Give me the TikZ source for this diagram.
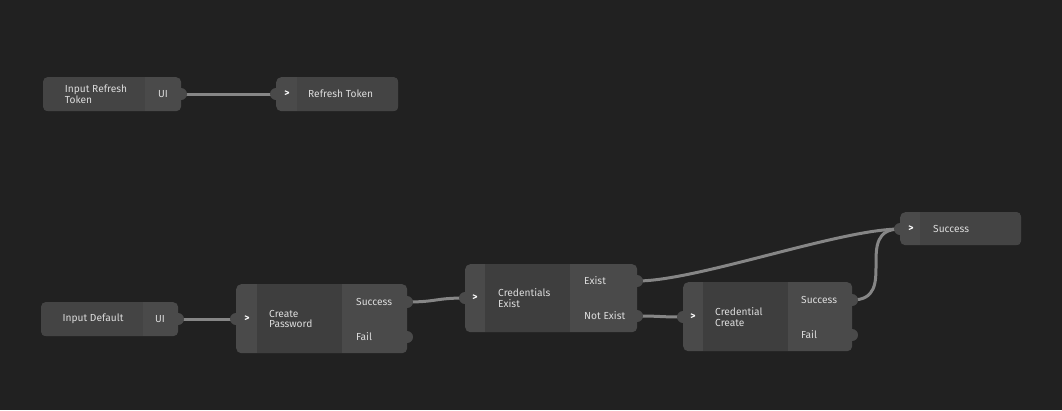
\documentclass[tikz,border=0pt]{standalone}
\usepackage{fontspec}
\setmainfont{Fira Sans}
\usetikzlibrary{positioning,calc}
\definecolor{bgdark}{RGB}{33,33,33}
\definecolor{nodepanel}{RGB}{74,74,74}
\definecolor{nodebody}{RGB}{62,62,62}
\definecolor{nodeinput}{RGB}{68,68,68}
\definecolor{wiregrey}{RGB}{134,134,134}
\definecolor{textgrey}{RGB}{220,220,220}
\pgfdeclarelayer{backdrop}
\pgfdeclarelayer{wires}
\pgfsetlayers{backdrop,wires,main}
\tikzset{
	every node/.style={font=\fontsize{10.2}{10.5}\selectfont,text=textgrey,inner sep=0pt}
}
\tikzset{
	panel/.style={rectangle,rounded corners=5pt,fill=nodepanel,anchor=north west},
	port/.style={circle,fill=nodepanel,minimum size=12pt},
	lbl/.style={anchor=west,align=left},
	chev/.style={font=\fontsize{10}{10}\selectfont\bfseries,text=white},
	wire/.style={draw=wiregrey,line width=3pt,line cap=round}
}

\begin{document}
\begin{tikzpicture}[x=1pt,y=-1pt]
	\begin{pgfonlayer}{backdrop}
		\fill[bgdark] (0,0) rectangle (1062,410);
	\end{pgfonlayer}
	\useasboundingbox (0,0) rectangle (1062,410);

	% input refresh token
	\node[panel,minimum width=138pt,minimum height=34pt] (irt) at (43,77) {};
	\begin{scope}
		\clip[rounded corners=5pt] (irt.north west) rectangle (irt.south east);
		\fill[nodeinput] (irt.north west) rectangle ($(irt.south west)+(102,0)$);
	\end{scope}
	\node[align=left] (irt-lbl) at (96,94) {Input Refresh\\Token};
	\node (irt-ui) at (163,94) {UI};
	\node[port] (irt-out) at (181,94) {};

	% refresh token
	\node[panel,minimum width=122pt,minimum height=34pt] (rt) at (276,77) {};
	\begin{scope}
		\clip[rounded corners=5pt] (rt.north west) rectangle (rt.south east);
		\fill[nodeinput] ($(rt.north west)+(21,0)$) rectangle (rt.south east);
	\end{scope}
	\node[port] (rt-in) at (276,94) {};
	\node[chev] (rt-chev) at (287,94) {>};
	\node[lbl] (rt-lbl) at (308,94) {Refresh Token};

	% input default
	\node[panel,minimum width=137pt,minimum height=34pt] (idf) at (41,302) {};
	\begin{scope}
		\clip[rounded corners=5pt] (idf.north west) rectangle (idf.south east);
		\fill[nodeinput] (idf.north west) rectangle ($(idf.south west)+(102,0)$);
	\end{scope}
	\node (idf-lbl) at (93,319) {Input Default};
	\node (idf-ui) at (160,319) {UI};
	\node[port] (idf-out) at (178,319) {};

	% create password
	\node[panel,minimum width=171pt,minimum height=69pt] (cp) at (236,284) {};
	\fill[nodebody] ($(cp.north west)+(21,0)$) rectangle ($(cp.south west)+(106,0)$);
	\node[port] (cp-in) at (236,319) {};
	\node[port] (cp-ok) at (407,302) {};
	\node[port] (cp-fail) at (407,337) {};
	\node[chev] (cp-chev) at (247,319) {>};
	\node[lbl] (cp-lbl) at (269,319) {Create\\Password};
	\node[lbl] (cp-oklbl) at (356,302) {Success};
	\node[lbl] (cp-faillbl) at (356,337) {Fail};

	% credentials exist
	\node[panel,minimum width=172pt,minimum height=68pt] (ce) at (465,264) {};
	\fill[nodebody] ($(ce.north west)+(20,0)$) rectangle ($(ce.south west)+(105,0)$);
	\node[port] (ce-in) at (465,298) {};
	\node[port] (ce-yes) at (637,281) {};
	\node[port] (ce-no) at (637,316) {};
	\node[chev] (ce-chev) at (475,298) {>};
	\node[lbl] (ce-lbl) at (498,298) {Credentials\\Exist};
	\node[lbl] (ce-yeslbl) at (584,281) {Exist};
	\node[lbl] (ce-nolbl) at (584,316) {Not Exist};

	% credential create
	\node[panel,minimum width=169pt,minimum height=69pt] (cc) at (683,282) {};
	\fill[nodebody] ($(cc.north west)+(20,0)$) rectangle ($(cc.south west)+(105,0)$);
	\node[port] (cc-in) at (683,317) {};
	\node[port] (cc-ok) at (852,300) {};
	\node[port] (cc-fail) at (852,335) {};
	\node[chev] (cc-chev) at (693,317) {>};
	\node[lbl] (cc-lbl) at (715,317) {Credential\\Create};
	\node[lbl] (cc-oklbl) at (801,300) {Success};
	\node[lbl] (cc-faillbl) at (801,335) {Fail};

	% success
	\node[panel,minimum width=121pt,minimum height=33pt] (ok) at (900,212) {};
	\begin{scope}
		\clip[rounded corners=5pt] (ok.north west) rectangle (ok.south east);
		\fill[nodeinput] ($(ok.north west)+(20,0)$) rectangle (ok.south east);
	\end{scope}
	\node[port] (ok-in) at (900,229) {};
	\node[chev] (ok-chev) at (911,229) {>};
	\node[lbl] (ok-lbl) at (933,229) {Success};

	% wires
	\begin{pgfonlayer}{wires}
		\draw[wire] (irt-out.center) -- (rt-in.center);
		\draw[wire] (idf-out.center) -- (cp-in.center);
		\draw[wire] (cp-ok.center) .. controls +(30,0) and +(-30,0) .. (ce-in.center);
		\draw[wire] (ce-yes.center) .. controls +(60,0) and +(-60,0) .. (ok-in.center);
		\draw[wire] (ce-no.center) .. controls +(25,0) and +(-25,0) .. (cc-in.center);
		\draw[wire] (cc-ok.center) .. controls +(48,0) and +(-48,0) .. (ok-in.center);
	\end{pgfonlayer}
\end{tikzpicture}
\end{document}
